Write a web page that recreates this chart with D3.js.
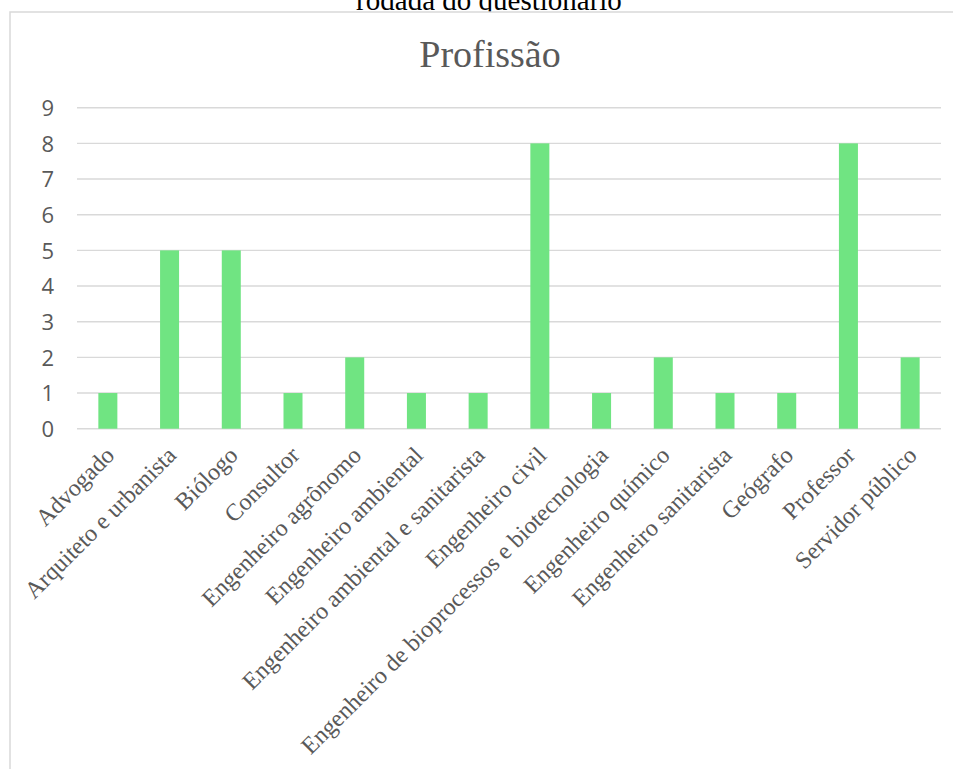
<!DOCTYPE html>
<html>
<head>
<meta charset="utf-8">
<script src="https://cdn.jsdelivr.net/npm/d3@7"></script>
<style>
  html, body { margin: 0; padding: 0; background: #fff; }
  svg { display: block; }
</style>
</head>
<body>
<svg id="chart" width="953" height="769"></svg>
<script>
const categories = [
  "Advogado", "Arquiteto e urbanista", "Biólogo", "Consultor",
  "Engenheiro agrônomo", "Engenheiro ambiental", "Engenheiro ambiental e sanitarista",
  "Engenheiro civil", "Engenheiro de bioprocessos e biotecnologia", "Engenheiro químico",
  "Engenheiro sanitarista", "Geógrafo", "Professor", "Servidor público"
];
const values = [1, 5, 5, 1, 2, 1, 1, 8, 1, 2, 1, 1, 8, 2];
const yTicks = [0, 1, 2, 3, 4, 5, 6, 7, 8, 9];
const chartTitle = "Profissão";
const captionAbove = "rodada do questionário";

const svg = d3.select("#chart");
const plot = { left: 77, right: 941, top: 107.7, bottom: 428.7 };

// caption above the chart frame (partly hidden, as in the source)
svg.append("text")
  .attr("x", 489).attr("y", 10)
  .attr("text-anchor", "middle")
  .attr("font-family", "'Liberation Serif', 'Times New Roman', serif")
  .attr("font-size", 29)
  .attr("fill", "#000")
  .text(captionAbove);

// chart frame
svg.append("rect")
  .attr("x", 10).attr("y", 12).attr("width", 960).attr("height", 800)
  .attr("fill", "#fff").attr("stroke", "#d9d9d9").attr("stroke-width", 1.5);

const x = d3.scaleBand()
  .domain(categories)
  .range([plot.left, plot.right])
  .paddingInner(0.692)
  .paddingOuter(0.346);

const y = d3.scaleLinear().domain([0, 9]).range([plot.bottom, plot.top]);

// gridlines
svg.append("g").selectAll("line").data(yTicks).join("line")
  .attr("x1", plot.left).attr("x2", plot.right)
  .attr("y1", d => y(d)).attr("y2", d => y(d))
  .attr("stroke", "#d9d9d9").attr("stroke-width", 1.4);

// y axis labels
const yAxis = d3.axisLeft(y).tickValues(yTicks).tickSize(0).tickPadding(0);
const gy = svg.append("g").attr("transform", `translate(54,0)`).call(yAxis);
gy.select(".domain").remove();
gy.selectAll("text")
  .attr("font-family", "'Open Sans', 'Noto Sans', sans-serif")
  .attr("font-size", 22)
  .attr("fill", "#595959")
  .attr("dy", "0.35em");

// bars
svg.append("g").selectAll("rect").data(values).join("rect")
  .attr("x", (d, i) => x(categories[i]))
  .attr("y", d => y(d))
  .attr("width", x.bandwidth())
  .attr("height", d => y(0) - y(d))
  .attr("fill", "#70e482");

// x axis labels
const xAxis = d3.axisBottom(x).tickSize(0).tickPadding(0);
const gx = svg.append("g").attr("transform", `translate(0,${plot.bottom})`).call(xAxis);
gx.select(".domain").remove();
gx.selectAll("text")
  .attr("font-family", "'Liberation Serif', 'Times New Roman', serif")
  .attr("font-size", 24)
  .attr("fill", "#595959")
  .attr("text-anchor", "end")
  .attr("dy", 0)
  .attr("y", 0)
  .attr("transform", "translate(8,28) rotate(-45)");

// title
svg.append("text")
  .attr("x", 490).attr("y", 66.7)
  .attr("text-anchor", "middle")
  .attr("font-family", "'Liberation Serif', 'Times New Roman', serif")
  .attr("font-size", 38)
  .attr("fill", "#595959")
  .text(chartTitle);
</script>
</body>
</html>
